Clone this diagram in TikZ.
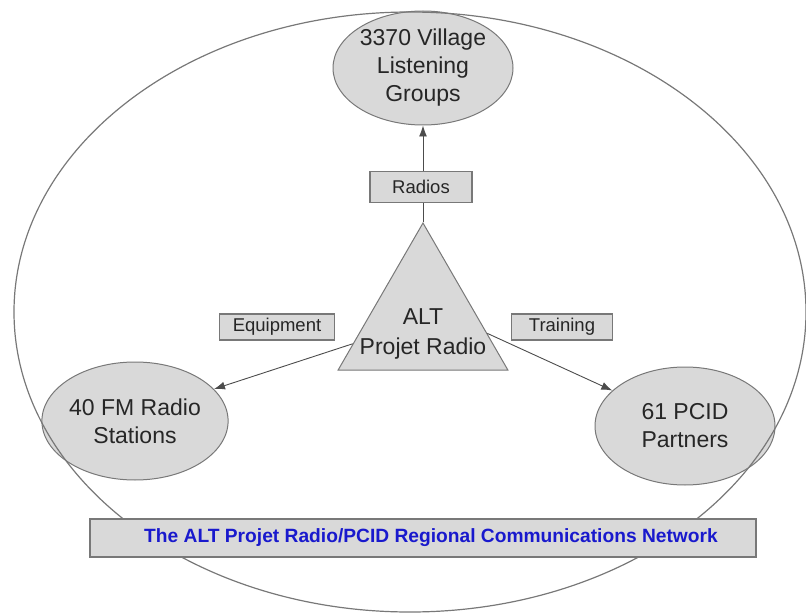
\documentclass[tikz,border=0pt]{standalone}
\usepackage{fontspec}
\setmainfont{Liberation Sans}
\usetikzlibrary{shapes,calc,arrows.meta}

\definecolor{boxgray}{RGB}{217,217,217}
\definecolor{linegray}{RGB}{120,120,120}
\definecolor{netblue}{RGB}{25,25,205}

\begin{document}
\begin{tikzpicture}[x=1pt, y=-1pt,
  group/.style={ellipse, draw=linegray, fill=boxgray, line width=1pt, inner sep=0pt, align=center, text=black!85, font=\fontsize{23}{28}\selectfont},
  tag/.style={rectangle, draw=linegray, fill=boxgray, line width=1.3pt, inner sep=0pt, text=black!85, font=\fontsize{18.5}{22}\selectfont},
  flow/.style={draw=black!70, line width=0.9pt, -{Latex[length=11pt,width=8pt]}}]
\useasboundingbox (0,0) rectangle (806,615);
\node[group, minimum width=180, minimum height=114] (village) at (423,68) {3370 Village\\Listening\\Groups};
\node[group, minimum width=178, minimum height=118] (fm) at (135,421) {40 FM Radio\\Stations};
\node[group, minimum width=180, minimum height=118] (pcid) at (685,426) {61 PCID\\Partners};
\node[regular polygon, regular polygon sides=3, draw=linegray, fill=boxgray, line width=1pt, minimum size=196, inner sep=0pt] (alt) at (423,321) {};
\node[align=center, text=black!85, font=\fontsize{23}{30}\selectfont] (altname) at (423,334) {ALT\\Projet Radio};
% the network around everything
\draw[linegray, line width=1.2pt] (410,312) ellipse [x radius=396pt, y radius=300pt];
\draw[flow] (alt.corner 1) -- (village);
\draw[flow] ($(alt.corner 1)!0.82!(alt.corner 2)$) -- (fm.22);
\draw[flow] ($(alt.corner 1)!0.75!(alt.corner 3)$) -- (pcid.154);
\node[tag, minimum width=102, minimum height=31] (radios) at (421,187) {Radios};
\node[tag, minimum width=115, minimum height=26] (equip) at (277,327) {Equipment};
\node[tag, minimum width=101, minimum height=26] (train) at (562,327) {Training};
\node[tag, minimum width=666, minimum height=38, text=netblue, font=\bfseries\fontsize{19.2}{22}\selectfont] (network) at (423,538) {\hspace*{16pt}The ALT Projet Radio/PCID Regional Communications Network};
\end{tikzpicture}
\end{document}
